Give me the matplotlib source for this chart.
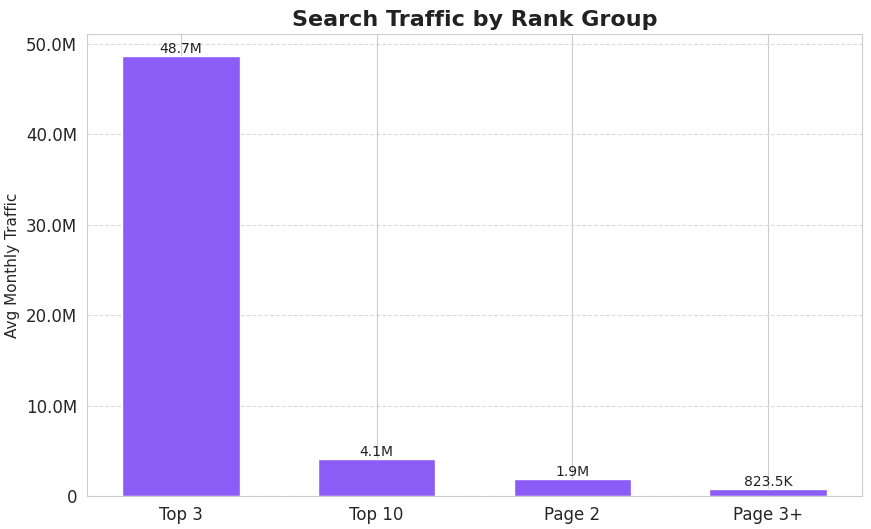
import matplotlib
matplotlib.use("Agg")
import matplotlib.pyplot as plt
import seaborn as sns
from matplotlib.ticker import FuncFormatter

categories = ["Top 3", "Top 10", "Page 2", "Page 3+"]
values = [48.7e6, 4.1e6, 1.9e6, 823.5e3]
labels = ["48.7M", "4.1M", "1.9M", "823.5K"]

sns.set_style("whitegrid")
plt.rcParams['font.family'] = ['DejaVu Sans']

fig = plt.figure(figsize=(8.71, 5.29), dpi=100)
ax = fig.add_axes([87/871, 1-496/529, (862-87)/871, (496-34)/529])
bars = ax.bar(categories, values, width=0.6, color="#8b5cf6", zorder=2)
for b, l in zip(bars, labels):
    ax.text(b.get_x()+b.get_width()/2, b.get_height(), l, ha="center", va="bottom", fontsize=10, color="#222222")
ax.set_ylim(0, 51.1e6)
ax.yaxis.set_major_formatter(FuncFormatter(lambda v, p: "0" if v == 0 else f"{v/1e6:.1f}M"))
ax.grid(axis="y", linestyle="--", alpha=0.7)
ax.grid(axis="x", linestyle="-")
ax.tick_params(labelsize=12)
ax.set_ylabel("Avg Monthly Traffic", fontsize=11)
ax.set_title("Search Traffic by Rank Group", fontsize=16, fontweight="bold", color="#222222")
for s in ax.spines.values():
    s.set_color("#cccccc")
fig.savefig("out.png", dpi=100)
